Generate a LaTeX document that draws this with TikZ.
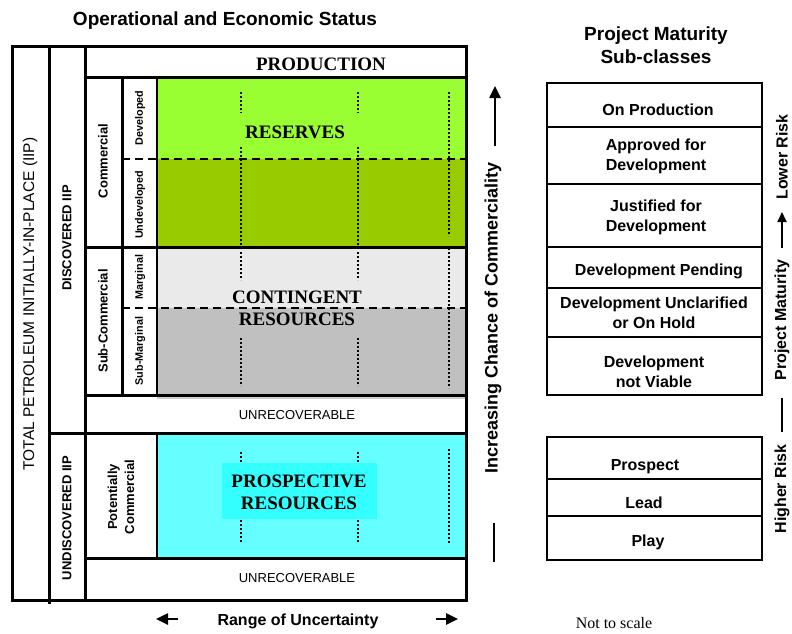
\documentclass[tikz,border=0pt]{standalone}
\usepackage{fontspec}
\setmainfont{Liberation Serif}
\setsansfont{Liberation Sans}
\usetikzlibrary{arrows.meta}
\definecolor{brgreen}{HTML}{99FF33}
\definecolor{olgreen}{HTML}{99CC00}
\definecolor{ltgrey}{HTML}{EAEAEA}
\definecolor{mdgrey}{HTML}{C0C0C0}
\definecolor{ltcyan}{HTML}{66FFFF}
\definecolor{brcyan}{HTML}{33FFFF}
\tikzset{
  frameline/.style={line width=3pt, line cap=rect},
  thinline/.style={line width=1.5pt},
  tabline/.style={line width=1.4pt, line cap=rect},
  dashline/.style={line width=2.5pt, dash pattern=on 8pt off 5pt},
  dotline/.style={line width=2.2pt, dash pattern=on 2pt off 2pt},
  sfb/.style={font=\sffamily\bfseries\fontsize{#1}{#1}\selectfont, inner sep=0pt},
  sfr/.style={font=\sffamily\fontsize{#1}{#1}\selectfont, inner sep=0pt},
  rmb/.style={font=\rmfamily\bfseries\fontsize{#1}{#1}\selectfont, inner sep=0pt},
  tabtext/.style={font=\sffamily\bfseries\fontsize{16}{20}\selectfont, align=center, inner sep=0pt},
  bigarrow/.style={line width=2.5pt, -{Triangle[length=12pt,width=11pt]}},
}
\begin{document}
\begin{tikzpicture}[x=1pt,y=-1pt]
\useasboundingbox (0,0) rectangle (792,634);
% fills
\fill[brgreen] (157,77) rectangle (466,159);
\fill[olgreen] (157,159) rectangle (466,247);
\fill[ltgrey] (157,247) rectangle (466,308);
\fill[mdgrey] (157,308) rectangle (466,395);
\fill[mdgrey!80] (157,395) rectangle (466,399);
\fill[ltcyan] (157,433) rectangle (466,558);
% dotted uncertainty lines
\foreach \x in {241,358}{
  \draw[dotline] (\x,92) -- (\x,113);
  \draw[dotline] (\x,147) -- (\x,246);
  \draw[dotline] (\x,252) -- (\x,280);
  \draw[dotline] (\x,338) -- (\x,386);
  \draw[dotline] (\x,452) -- (\x,542);
}
\draw[dotline] (449,92) -- (449,236);
\draw[dotline] (449,248) -- (449,388);
\draw[dotline] (449,449) -- (449,543);
% prospective label box
\fill[brcyan] (222,463) rectangle (377,519);
% dashed lines
\draw[dashline] (122,159) -- (466,159);
\draw[dashline] (122,308) -- (466,308);
% frame
\draw[frameline] (12,47) rectangle (466,600);
\draw[frameline] (49,47) -- (49,602);
\draw[frameline] (85,47) -- (85,600);
\draw[frameline] (85,77) -- (466,77);
\draw[frameline] (85,247) -- (466,247);
\draw[frameline] (85,395) -- (466,395);
\draw[frameline] (49,433) -- (466,433);
\draw[frameline] (85,558) -- (466,558);
\draw[frameline] (122,77) -- (122,395);
\draw[thinline] (157,77) -- (157,395);
\draw[thinline] (157,433) -- (157,558);
% left frame texts
\node[sfb=19] (title) at (225,21) {Operational and Economic Status};
\node[sfr=15.5, rotate=90] (tpiip) at (30,304) {TOTAL PETROLEUM INITIALLY-IN-PLACE (IIP)};
\node[sfb=13, rotate=90] (disc) at (67,238) {DISCOVERED IIP};
\node[sfb=13, rotate=90] (undisc) at (67,518) {UNDISCOVERED IIP};
\node[sfb=13, rotate=90] (comm) at (103,161) {Commercial};
\node[sfb=13, rotate=90] (subcomm) at (103,321) {Sub-Commercial};
\node[sfb=10.8, rotate=90] (dev) at (140,118) {Developed};
\node[sfb=10.8, rotate=90] (undev) at (140,205) {Undeveloped};
\node[sfb=10.8, rotate=90] (marg) at (140,277) {Marginal};
\node[sfb=10.8, rotate=90] (submarg) at (140,351) {Sub-Marginal};
\node[sfb=13, rotate=90, align=center, font=\sffamily\bfseries\fontsize{13}{17}\selectfont] (potcomm) at (121,497) {Potentially\\Commercial};
\node[rmb=19] (prod) at (321,64) {PRODUCTION};
\node[rmb=19] (res) at (295,132) {RESERVES};
\node[rmb=19] (cont1) at (297,297) {CONTINGENT};
\node[rmb=19] (cont2) at (297,319) {RESOURCES};
\node[rmb=19] (pros1) at (299,481) {PROSPECTIVE};
\node[rmb=19] (pros2) at (299,503) {RESOURCES};
\node[sfr=13] (unrec1) at (297,415) {UNRECOVERABLE};
\node[sfr=13] (unrec2) at (297,578) {UNRECOVERABLE};
% range of uncertainty
\node[sfb=16] (range) at (298,621) {Range of Uncertainty};
\coordinate (la0) at (178,619);
\coordinate (la1) at (156,619);
\coordinate (ra0) at (436,619);
\coordinate (ra1) at (458,619);
\draw[bigarrow] (la0) -- (la1);
\draw[bigarrow] (ra0) -- (ra1);
% increasing chance of commerciality
\node[sfb=18, rotate=90] (incr) at (493,318) {Increasing Chance of Commerciality};
\coordinate (ua0) at (495,146);
\coordinate (ua1) at (495,86);
\draw[bigarrow] (ua0) -- (ua1);
\coordinate (ub0) at (494,523);
\coordinate (ub1) at (494,562);
\draw[line width=2.5pt] (ub0) -- (ub1);
% right table
\node[sfb=19, align=center, font=\sffamily\bfseries\fontsize{19}{23}\selectfont] (ptitle) at (656,45) {Project Maturity\\Sub-classes};
\draw[tabline] (547,83) rectangle (762,395);
\foreach \y in {127,184,247,288,337}{\draw[tabline] (547,\y) -- (762,\y);}
\draw[tabline] (547,437) rectangle (762,560);
\foreach \y in {479,516}{\draw[tabline] (547,\y) -- (762,\y);}
\node[tabtext] (onprod) at (658,110) {On Production};
\node[tabtext] (approved) at (656,156) {Approved for\\Development};
\node[tabtext] (justified) at (656,217) {Justified for\\Development};
\node[tabtext] (pending) at (659,271) {Development Pending};
\node[tabtext] (unclar) at (654,313) {Development Unclarified\\or On Hold};
\node[tabtext] (notviable) at (654,372) {Development\\not Viable};
\node[tabtext] (prospect) at (645,467) {Prospect};
\node[tabtext] (lead) at (644,503) {Lead};
\node[tabtext] (play) at (648,542) {Play};
% right side label
\node[sfb=16, rotate=90] (lowrisk) at (782,157) {Lower Risk};
\coordinate (ma0) at (782,248);
\coordinate (ma1) at (782,212);
\draw[line width=2pt, -{Triangle[length=10pt,width=9pt]}] (ma0) -- (ma1);
\node[sfb=16, rotate=90] (projmat) at (782,320) {Project Maturity};
\coordinate (mb0) at (782,398);
\coordinate (mb1) at (782,432);
\draw[line width=2pt] (mb0) -- (mb1);
\node[sfb=16, rotate=90] (highrisk) at (782,489) {Higher Risk};
% note
\node[font=\rmfamily\fontsize{16}{16}\selectfont, inner sep=0pt] (nts) at (614,623) {Not to scale};
\end{tikzpicture}
\end{document}
